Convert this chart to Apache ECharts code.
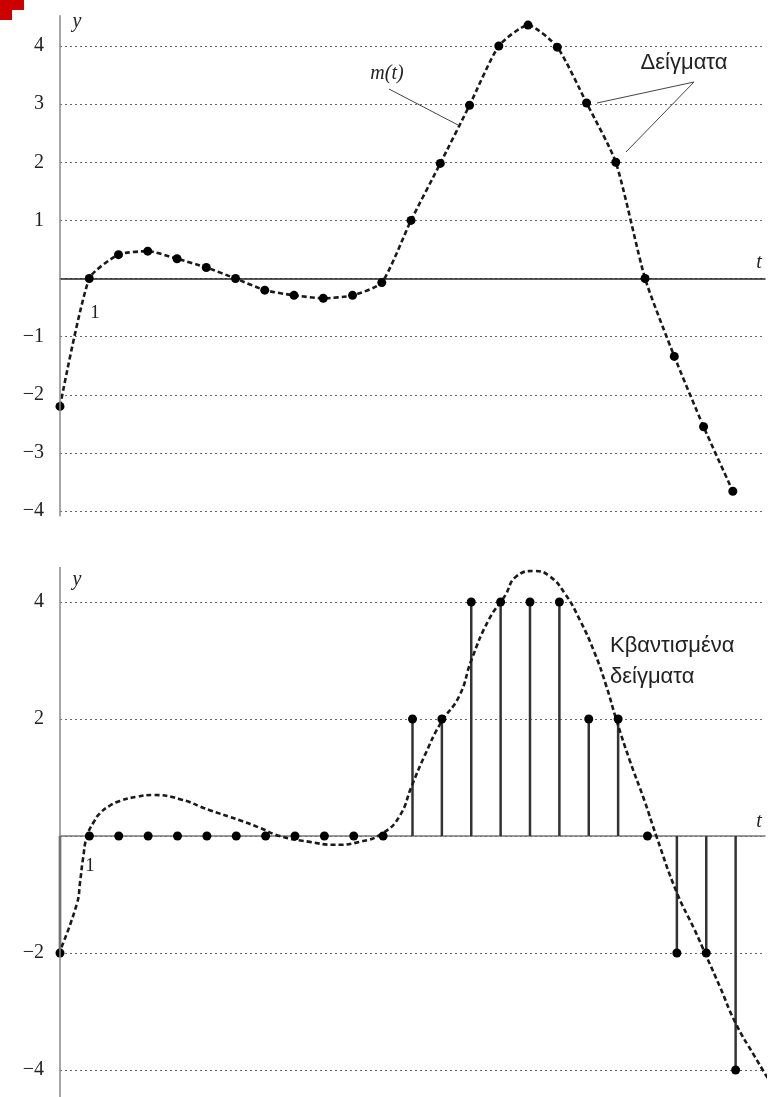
<!DOCTYPE html>
<html>
<head>
<meta charset="utf-8">
<script src="https://cdn.jsdelivr.net/npm/echarts@6/dist/echarts.min.js"></script>
<style>
html,body{margin:0;padding:0;background:#fff;}
#c{width:773px;height:1097px;}
</style>
</head>
<body>
<div id="c"></div>
<script>
// ---- data ----
const sampleT = [0,1,2,3,4,5,6,7,8,9,10,11,12,13,14,15,16,17,18,19,20,21,22,23];
const sampleValues = [-2.2,0,0.41,0.47,0.34,0.19,0,-0.2,-0.29,-0.34,-0.29,-0.07,1.0,1.98,2.98,4.0,4.36,3.98,3.02,2.0,0,-1.34,-2.55,-3.66];
const quantizedValues = [-2,0,0,0,0,0,0,0,0,0,0,0,2,2,4,4,4,4,2,2,0,-2,-2,-4];
const curveT = [0.05,0.58,0.68,0.78,0.92,1.15,1.36,1.7,2.04,2.6,3.16,4.08,5.1,6.12,6.8,7.48,8.5,9.35,10.2,10.99,11.56,11.97,12.41,12.96,13.6,14.0,14.6,15.14,15.54,16.16,16.67,17.18,17.69,18.2,18.6,18.95,19.39,19.9,20.3,21.0,21.6,22.0,22.45,23.0,23.64,24.25];
const curveValues = [-1.9,-1.15,-0.8,-0.4,0,0.24,0.39,0.52,0.6,0.67,0.70,0.63,0.44,0.27,0.14,0,-0.1,-0.15,-0.1,0.05,0.34,0.85,1.37,1.93,2.4,3.0,3.7,4.1,4.44,4.53,4.44,4.15,3.7,3.13,2.56,1.97,1.3,0.6,0,-0.97,-1.6,-2.05,-2.56,-3.2,-3.76,-4.27];
const topTicks = {min:-4, max:4, interval:1};
const bottomTicks = {min:-4, max:4, interval:2};

const serif = 'Liberation Serif';
const sans = 'Liberation Sans';

const chart = echarts.init(document.getElementById('c'), null, {renderer:'canvas'});

function yLabel(v){ if (v === 0) return ''; return v < 0 ? '\u2212' + (-v) : String(v); }

const dotted = {type:[2,3], color:'#666', width:1.2};
const dashLine = {type:[5,3], color:'#1a1a1a', width:2.6};

chart.setOption({
  animation:false,
  grid:[
    {left:60, right:8, top:46, height:465},
    {left:60, right:8, top:602, height:468}
  ],
  xAxis:[
    {gridIndex:0, type:'value', min:0, max:24.1,
     axisLine:{onZero:true, lineStyle:{color:'#222', width:1.5}},
     axisTick:{show:false}, axisLabel:{show:false}, splitLine:{show:false}},
    {gridIndex:1, type:'value', min:0, max:24,
     axisLine:{onZero:true, lineStyle:{color:'#777', width:1.5}},
     axisTick:{show:false}, axisLabel:{show:false}, splitLine:{show:false}}
  ],
  yAxis:[
    {gridIndex:0, type:'value', min:topTicks.min, max:topTicks.max, interval:topTicks.interval,
     axisLine:{show:false}, axisTick:{show:false},
     axisLabel:{formatter:yLabel, fontFamily:serif, fontSize:20, color:'#222', margin:16},
     splitLine:{show:true, lineStyle:dotted}},
    {gridIndex:1, type:'value', min:bottomTicks.min, max:bottomTicks.max, interval:bottomTicks.interval,
     axisLine:{show:false}, axisTick:{show:false},
     axisLabel:{formatter:yLabel, fontFamily:serif, fontSize:20, color:'#222', margin:16},
     splitLine:{show:true, lineStyle:dotted}}
  ],
  series:[
    {type:'line', xAxisIndex:0, yAxisIndex:0, clip:false, smooth:0.2,
     data: sampleT.map((t,i)=>[t, sampleValues[i]]),
     symbol:'circle', symbolSize:9, itemStyle:{color:'#000', opacity:1},
     lineStyle:dashLine, z:5},
    {type:'bar', xAxisIndex:1, yAxisIndex:1, barWidth:2.5,
     data: sampleT.map((t,i)=>[t, quantizedValues[i]]),
     itemStyle:{color:'#333'}, z:3},
    {type:'line', xAxisIndex:1, yAxisIndex:1, clip:false, smooth:true, showSymbol:false, symbol:'none',
     data: curveT.map((t,i)=>[t, curveValues[i]]),
     lineStyle:dashLine, z:4},
    {type:'scatter', xAxisIndex:1, yAxisIndex:1, clip:false,
     data: sampleT.map((t,i)=>[t, quantizedValues[i]]),
     symbol:'circle', symbolSize:9, itemStyle:{color:'#000', opacity:1}, z:6}
  ]
});

// axis lines extending past the tick range, and annotations
const pTopA = chart.convertToPixel({gridIndex:0}, [0, 4.53]);
const pTopB = chart.convertToPixel({gridIndex:0}, [0, -4.09]);
const pBotA = chart.convertToPixel({gridIndex:1}, [0, 4.6]);
const pBotB = chart.convertToPixel({gridIndex:1}, [0, -4.6]);

function seg(x1,y1,x2,y2,color,w){
  return {type:'line', z:20, shape:{x1:x1,y1:y1,x2:x2,y2:y2}, style:{stroke:color||'#444', lineWidth:w||1}};
}
function label(x,y,s,font,size,italic,align){
  return {type:'text', x:x, y:y, z:20, style:{text:s, fontFamily:font, fontSize:size,
    fontStyle:italic?'italic':'normal', fill:'#222', align:align||'center', verticalAlign:'middle'}};
}

chart.setOption({
  graphic:[
    {type:'polygon', z:30, shape:{points:[[0,0],[24,0],[24,10],[12,10],[12,20],[0,20]]}, style:{fill:'#cc0000'}},
    seg(pTopA[0], pTopA[1], pTopB[0], pTopB[1], '#888', 1.5),
    seg(pBotA[0], pBotA[1], pBotB[0], 1097, '#888', 1.5),
    // top chart labels
    label(77, 22, 'y', serif, 20, true),
    label(759, 263, 't', serif, 20, true),
    label(95, 313, '1', serif, 19, false),
    label(387, 74, 'm(t)', serif, 20, true),
    seg(389, 89, 458, 125, '#444', 1),
    label(684, 63, 'Δείγματα', sans, 22, false),
    seg(694, 82, 597, 103, '#444', 1),
    seg(694, 82, 626, 152, '#444', 1),
    // bottom chart labels
    label(77, 580, 'y', serif, 20, true),
    label(759, 822, 't', serif, 20, true),
    label(90, 866, '1', serif, 19, false),
    label(610, 646, 'Κβαντισμένα', sans, 22, false, 'left'),
    label(610, 677, 'δείγματα', sans, 22, false, 'left')
  ]
});
</script>
</body>
</html>
